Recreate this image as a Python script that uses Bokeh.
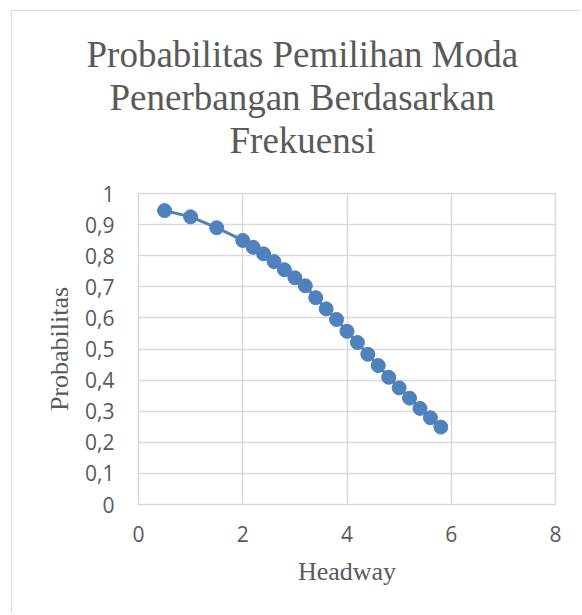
from bokeh.plotting import figure
from bokeh.models import Range1d, FixedTicker, Title
from bokeh.embed import file_html
from bokeh.resources import INLINE

# ---- data ----
headway = [0.5, 1.0, 1.5, 2.0, 2.2, 2.4, 2.6, 2.8, 3.0, 3.2, 3.4, 3.6,
           3.8, 4.0, 4.2, 4.4, 4.6, 4.8, 5.0, 5.2, 5.4, 5.6, 5.8]
probabilitas = [0.945, 0.925, 0.890, 0.849, 0.827, 0.806, 0.781, 0.755,
                0.729, 0.703, 0.665, 0.629, 0.595, 0.557, 0.521, 0.483,
                0.447, 0.409, 0.375, 0.342, 0.309, 0.279, 0.249]

x_ticks = [0, 2, 4, 6, 8]
x_tick_labels = ["0", "2", "4", "6", "8"]
y_ticks = [0, 0.1, 0.2, 0.3, 0.4, 0.5, 0.6, 0.7, 0.8, 0.9, 1]
y_tick_labels = ["0", "0,1", "0,2", "0,3", "0,4", "0,5", "0,6", "0,7",
                 "0,8", "0,9", "1"]
title_lines = ["Probabilitas Pemilihan Moda", "Penerbangan Berdasarkan", "Frekuensi"]
x_label = "Headway"
y_label = "Probabilitas"

TEXT = "#595959"
GRID = "#d9d9d9"
BLUE = "#4F81BD"

p = figure(width=569, height=603, output_backend="svg", toolbar_location=None,
           x_range=Range1d(0, 8), y_range=Range1d(0, 1),
           min_border_left=126, min_border_right=26,
           min_border_top=182, min_border_bottom=110)
p.styles = {"margin-left": "11px", "margin-top": "10px",
            "border-left": "1px solid #d9d9d9", "border-top": "1px solid #d9d9d9"}

p.outline_line_color = GRID
p.outline_line_width = 1.5

p.xaxis.ticker = FixedTicker(ticks=x_ticks)
p.yaxis.ticker = FixedTicker(ticks=y_ticks)
p.xaxis.major_label_overrides = dict(zip(x_ticks, x_tick_labels))
p.yaxis.major_label_overrides = dict(zip(y_ticks, y_tick_labels))

for ax in (p.xaxis, p.yaxis):
    ax.axis_line_color = None
    ax.major_tick_line_color = None
    ax.minor_tick_line_color = None
    ax.major_tick_out = 0
    ax.major_tick_in = 0
    ax.major_label_text_font = "Open Sans"
    ax.major_label_text_font_size = "21px"
    ax.major_label_text_color = TEXT
    ax.axis_label_text_font = "Liberation Serif"
    ax.axis_label_text_font_size = "26px"
    ax.axis_label_text_font_style = "normal"
    ax.axis_label_text_color = TEXT

p.xaxis.axis_label = x_label
p.yaxis.axis_label = y_label
p.xaxis.major_label_standoff = 21
p.xaxis.axis_label_standoff = 12
p.yaxis.major_label_standoff = 24
p.yaxis.axis_label_standoff = 8

p.xgrid.ticker = FixedTicker(ticks=x_ticks)
p.ygrid.ticker = FixedTicker(ticks=y_ticks)
for g in (p.xgrid, p.ygrid):
    g.grid_line_color = GRID
    g.grid_line_width = 1.5

p.line(headway, probabilitas, line_color=BLUE, line_width=3)
p.scatter(headway, probabilitas, size=14, fill_color=BLUE, line_color=BLUE)

# ---- title: three lines stacked above the plot area ----
# spacer between plot area and the last title line
p.add_layout(Title(text=" ", text_font_size="20px", standoff=9,
                   text_color="white"), "above")
title_offsets = [-52, -29, 91]   # left edge of each line relative to plot area
for line, off in reversed(list(zip(title_lines, title_offsets))):
    p.add_layout(Title(text=line, align="left", offset=off, standoff=0,
                       vertical_align="bottom",
                       text_font="Liberation Serif", text_font_size="37px",
                       text_font_style="normal", text_color=TEXT), "above")

open("out.html", "w").write(file_html(p, INLINE))
